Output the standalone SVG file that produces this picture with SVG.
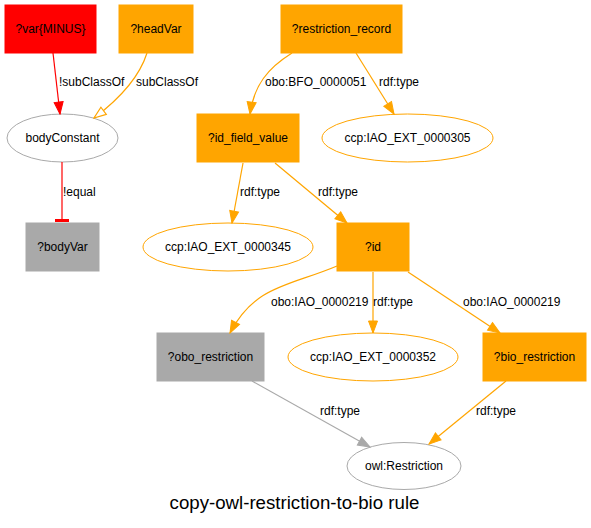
<svg xmlns="http://www.w3.org/2000/svg" width="591" height="528" viewBox="0 0 591 528">
<style>
text{font-family:"Liberation Sans",Arial,sans-serif;font-size:12px;fill:#000}
.n{text-anchor:middle}
.o{fill:#FFA500;stroke:#FFA500}
.g{fill:#A9A9A9;stroke:#A9A9A9}
.r{fill:#FF0000;stroke:#FF0000}
.eo{fill:#fff;stroke:#FFA500}
.eg{fill:#fff;stroke:#A9A9A9}
.c{fill:none;stroke-width:1.2}
.co{stroke:#FFA500;marker-end:url(#ao)}
.cg{stroke:#A9A9A9;marker-end:url(#ag)}
</style>
<defs>
<marker id="ao" markerUnits="userSpaceOnUse" markerWidth="14" markerHeight="12" refX="12" refY="4.5" orient="auto" viewBox="-1 -1.5 14 12"><path d="M0,0 L12,4.5 L0,9 z" fill="#FFA500" stroke="#FFA500"/></marker>
<marker id="ag" markerUnits="userSpaceOnUse" markerWidth="14" markerHeight="12" refX="12" refY="4.5" orient="auto" viewBox="-1 -1.5 14 12"><path d="M0,0 L12,4.5 L0,9 z" fill="#A9A9A9" stroke="#A9A9A9"/></marker>
<marker id="ar" markerUnits="userSpaceOnUse" markerWidth="14" markerHeight="12" refX="12" refY="4.5" orient="auto" viewBox="-1 -1.5 14 12"><path d="M0,0 L12,4.5 L0,9 z" fill="#FF0000" stroke="#FF0000"/></marker>
<marker id="aho" markerUnits="userSpaceOnUse" markerWidth="14" markerHeight="12" refX="12" refY="4.5" orient="auto" viewBox="-1 -1.5 14 12"><path d="M0,0 L12,4.5 L0,9 z" fill="#fff" stroke="#FFA500" stroke-width="1.2"/></marker>
</defs>
<rect width="591" height="528" fill="#fff"/>
<g id="nodes">
<g id="var"><rect class="r" x="5" y="5" width="91" height="48"/><text class="n" x="50.5" y="33">?var{MINUS}</text></g>
<g id="headVar"><rect class="o" x="119" y="5" width="74" height="48"/><text class="n" x="156" y="33">?headVar</text></g>
<g id="restriction_record"><rect class="o" x="281" y="5" width="121" height="48"/><text class="n" x="341.5" y="33">?restriction_record</text></g>
<g id="bodyConstant"><ellipse class="eg" cx="62.5" cy="138" rx="55.5" ry="24"/><text class="n" x="62.5" y="142">bodyConstant</text></g>
<g id="id_field_value"><rect class="o" x="197" y="114" width="102" height="48"/><text class="n" x="248" y="142">?id_field_value</text></g>
<g id="iao305"><ellipse class="eo" cx="407.5" cy="138" rx="85.5" ry="24"/><text class="n" x="407.5" y="142">ccp:IAO_EXT_0000305</text></g>
<g id="bodyVar"><rect class="g" x="26" y="223" width="73" height="48"/><text class="n" x="62.5" y="251">?bodyVar</text></g>
<g id="iao345"><ellipse class="eo" cx="228" cy="247" rx="85" ry="24"/><text class="n" x="228" y="251">ccp:IAO_EXT_0000345</text></g>
<g id="id"><rect class="o" x="337" y="223" width="72" height="48"/><text class="n" x="373" y="251">?id</text></g>
<g id="obo_restriction"><rect class="g" x="157" y="333" width="107" height="48"/><text class="n" x="210.5" y="361">?obo_restriction</text></g>
<g id="iao352"><ellipse class="eo" cx="373" cy="357" rx="85" ry="24"/><text class="n" x="373" y="361">ccp:IAO_EXT_0000352</text></g>
<g id="bio_restriction"><rect class="o" x="483" y="333" width="103" height="48"/><text class="n" x="534.5" y="361">?bio_restriction</text></g>
<g id="owlRestriction"><ellipse class="eg" cx="404" cy="466" rx="57" ry="23.5"/><text class="n" x="404" y="470">owl:Restriction</text></g>
</g>
<g id="connectors">
<path class="c" stroke="#FF0000" marker-end="url(#ar)" d="M53,53 L60,114"/>
<text x="59" y="86">!subClassOf</text>
<path class="c" stroke="#FFA500" marker-end="url(#aho)" d="M147,53 C140,75 122,97 94,118"/>
<text x="136" y="86">subClassOf</text>
<path class="c" stroke="#FF0000" d="M62,162 L62,220"/>
<rect x="55" y="219" width="14" height="3" fill="#FF0000"/>
<text x="63" y="196">!equal</text>
<path class="c co" d="M292,53 C268,68 254,85 250,114"/>
<text x="265" y="86">obo:BFO_0000051</text>
<path class="c co" d="M356,53 L394,114"/>
<text x="379" y="86">rdf:type</text>
<path class="c co" d="M243,163 L232,223"/>
<text x="240" y="196">rdf:type</text>
<path class="c co" d="M275,163 L347,223"/>
<text x="318" y="196">rdf:type</text>
<path class="c co" d="M337,266 C290,286 255,285 230,333"/>
<text x="271" y="306">obo:IAO_0000219</text>
<path class="c co" d="M373,272 L373,333"/>
<text x="373" y="306">rdf:type</text>
<path class="c co" d="M408,272 L500,333"/>
<text x="463" y="306">obo:IAO_0000219</text>
<path class="c cg" d="M252,381 L370,447"/>
<text x="320" y="415">rdf:type</text>
<path class="c co" d="M506,381 L429,444"/>
<text x="476" y="415">rdf:type</text>
</g>
<text class="n" x="294.5" y="509" style="font-size:18.67px">copy-owl-restriction-to-bio rule</text>
</svg>
